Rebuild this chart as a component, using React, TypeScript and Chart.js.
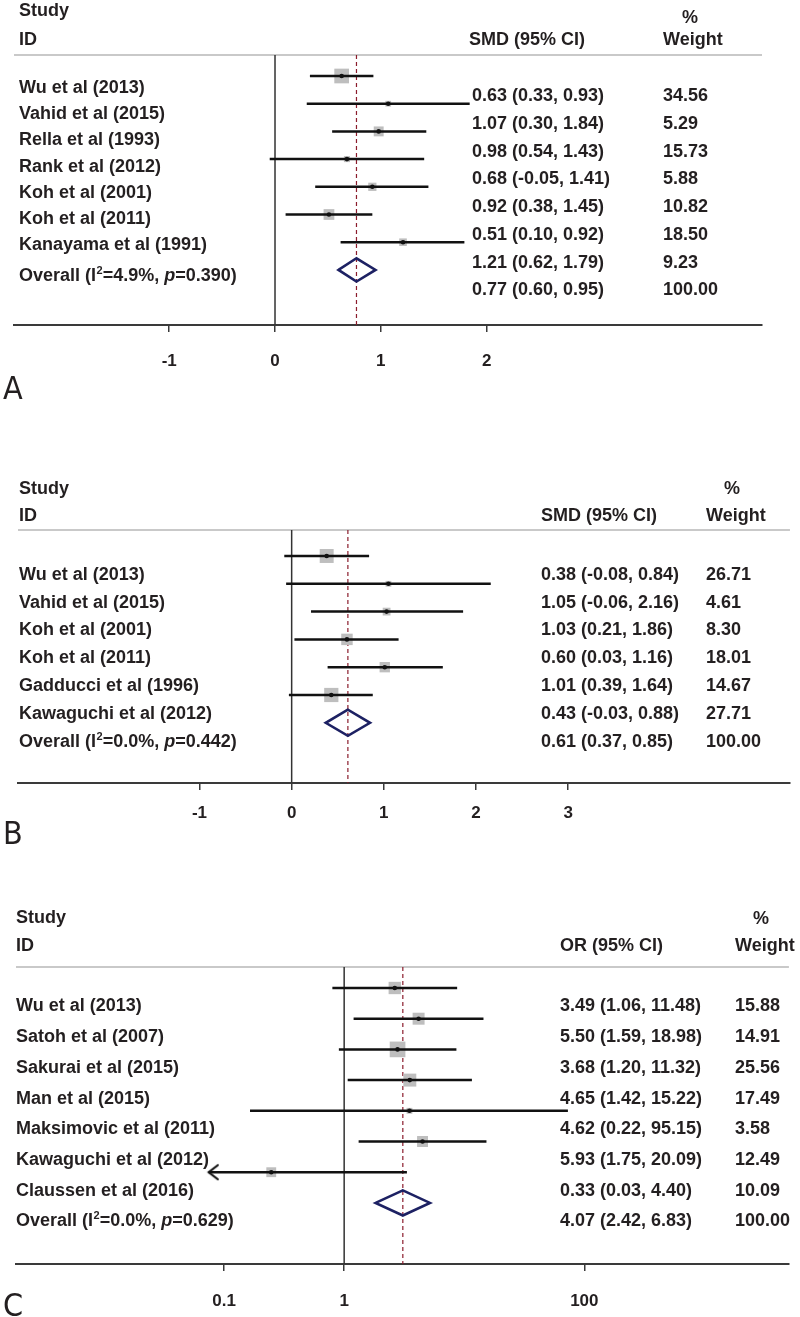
import React, { useEffect, useRef } from "react";
import { Chart, registerables } from "chart.js";

Chart.register(...registerables);

// ================= Panel A (SMD) =================
const studiesA = [
  "Wu et al (2013)",
  "Vahid et al (2015)",
  "Rella et al (1993)",
  "Rank et al (2012)",
  "Koh et al (2001)",
  "Koh et al (2011)",
  "Kanayama et al (1991)",
];
const estA = [0.63, 1.07, 0.98, 0.68, 0.92, 0.51, 1.21];
const loA = [0.33, 0.3, 0.54, -0.05, 0.38, 0.1, 0.62];
const hiA = [0.93, 1.84, 1.43, 1.41, 1.45, 0.92, 1.79];
const weightA = [34.56, 5.29, 15.73, 5.88, 10.82, 18.5, 9.23];
const overallA = [0.77, 0.6, 0.95];
const hetA = ["4.9%", "0.390"];
const ticksA = [-1, 0, 1, 2];
const tickLabelsA = ["-1", "0", "1", "2"];

// ================= Panel B (SMD) =================
const studiesB = [
  "Wu et al (2013)",
  "Vahid et al (2015)",
  "Koh et al (2001)",
  "Koh et al (2011)",
  "Gadducci et al (1996)",
  "Kawaguchi et al (2012)",
];
const estB = [0.38, 1.05, 1.03, 0.6, 1.01, 0.43];
const loB = [-0.08, -0.06, 0.21, 0.03, 0.39, -0.03];
const hiB = [0.84, 2.16, 1.86, 1.16, 1.64, 0.88];
const weightB = [26.71, 4.61, 8.3, 18.01, 14.67, 27.71];
const overallB = [0.61, 0.37, 0.85];
const hetB = ["0.0%", "0.442"];
const ticksB = [-1, 0, 1, 2, 3];
const tickLabelsB = ["-1", "0", "1", "2", "3"];

// ================= Panel C (OR) =================
const studiesC = [
  "Wu et al (2013)",
  "Satoh et al (2007)",
  "Sakurai et al (2015)",
  "Man et al (2015)",
  "Maksimovic et al (2011)",
  "Kawaguchi et al (2012)",
  "Claussen et al (2016)",
];
const estC = [3.49, 5.5, 3.68, 4.65, 4.62, 5.93, 0.33];
const loC = [1.06, 1.59, 1.2, 1.42, 0.22, 1.75, 0.03];
const hiC = [11.48, 18.98, 11.32, 15.22, 95.15, 20.09, 4.4];
const weightC = [15.88, 14.91, 25.56, 17.49, 3.58, 12.49, 10.09];
const overallC = [4.07, 2.42, 6.83];
const hetC = ["0.0%", "0.629"];
const ticksC = [0.1, 1, 100];
const tickLabelsC = ["0.1", "1", "100"];
const ciFloorC = 0.1; // lower plotting limit of panel C (CI truncated with an arrow)

const overallWeight = 100;

// ================= styling =================
const FONT = '"Liberation Sans", Arial, Helvetica, sans-serif';
const LETTER_FONT = '"Liberation Sans Narrow", "DejaVu Sans Condensed", "Liberation Sans", sans-serif';
const INK = "#231f20";
const AXIS = "#3a3a3a";
const CAP = 6.4; // half cap height of 18px text

interface Layout {
  height: number;
  area: { left: number; right: number; top: number; bottom: number };
  xMin: number;
  xMax: number;
  axisMin?: number;
  axisMax?: number;
  yMin: number;
  yMax: number;
  axisHeight: number;
  tickPad: number;
  box: number;
  diamondHalf: number;
  labelX: number;
  colX: number;
  numX: number;
  weightX: number;
  pctX: number;
  studyY: number;
  pctY: number;
  idY: number;
  labelOffset: (i: number, n: number) => number;
  numOffset: number;
  letterY: number;
}

interface PanelSpec {
  letter: string;
  measure: string;
  studies: string[];
  est: number[];
  lo: number[];
  hi: number[];
  weight: number[];
  overall: number[];
  het: string[];
  ticks: number[];
  tickLabels: string[];
  log: boolean;
  nullValue: number;
  floor?: number;
  L: Layout;
}

const specA: PanelSpec = {
  letter: "A",
  measure: "SMD (95% CI)",
  studies: studiesA,
  est: estA,
  lo: loA,
  hi: hiA,
  weight: weightA,
  overall: overallA,
  het: hetA,
  ticks: ticksA,
  tickLabels: tickLabelsA,
  log: false,
  nullValue: 0,
  L: {
    height: 400,
    area: { left: 14, right: 762, top: 55, bottom: 325 },
    xMin: -2.467,
    xMax: 4.603,
    yMin: -0.758,
    yMax: 8.989,
    axisHeight: 60,
    tickPad: 19,
    box: 2.5,
    diamondHalf: 0.42,
    labelX: 19,
    colX: 469,
    numX: 472,
    weightX: 663,
    pctX: 690,
    studyY: 10,
    pctY: 17,
    idY: 39,
    labelOffset: (i, n) => (i < n ? 11 - 1.65 * i : 5),
    numOffset: 19,
    letterY: 387,
  },
};

const specB: PanelSpec = {
  letter: "B",
  measure: "SMD (95% CI)",
  studies: studiesB,
  est: estB,
  lo: loB,
  hi: hiB,
  weight: weightB,
  overall: overallB,
  het: hetB,
  ticks: ticksB,
  tickLabels: tickLabelsB,
  log: false,
  nullValue: 0,
  L: {
    height: 460,
    area: { left: 18, right: 791, top: 130, bottom: 383 },
    xMin: -2.969,
    xMax: 5.406,
    yMin: -0.935,
    yMax: 8.166,
    axisHeight: 60,
    tickPad: 13,
    box: 2.7,
    diamondHalf: 0.47,
    labelX: 19,
    colX: 541,
    numX: 541,
    weightX: 706,
    pctX: 732,
    studyY: 88,
    pctY: 88,
    idY: 115,
    labelOffset: () => 17.5,
    numOffset: 17.5,
    letterY: 432,
  },
};

const specC: PanelSpec = {
  letter: "C",
  measure: "OR (95% CI)",
  studies: studiesC,
  est: estC,
  lo: loC,
  hi: hiC,
  weight: weightC,
  overall: overallC,
  het: hetC,
  ticks: ticksC,
  tickLabels: tickLabelsC,
  log: true,
  nullValue: 1,
  floor: ciFloorC,
  L: {
    height: 457,
    area: { left: 16, right: 798, top: 107, bottom: 404 },
    xMin: Math.pow(10, -2.598),
    xMax: Math.pow(10, 3.811),
    axisMin: Math.pow(10, -2.733),
    axisMax: Math.pow(10, 3.704),
    yMin: -0.684,
    yMax: 8.99,
    axisHeight: 50,
    tickPad: 20,
    box: 3.1,
    diamondHalf: 0.41,
    labelX: 16,
    colX: 560,
    numX: 560,
    weightX: 735,
    pctX: 761,
    studyY: 57,
    pctY: 58,
    idY: 85,
    labelOffset: () => 17,
    numOffset: 17,
    letterY: 444,
  },
};

function makeArrow(): HTMLCanvasElement {
  const c = document.createElement("canvas");
  c.width = 24;
  c.height = 18;
  const g = c.getContext("2d")!;
  g.strokeStyle = "#111";
  g.lineWidth = 2.2;
  g.lineCap = "round";
  g.lineJoin = "miter";
  g.beginPath();
  g.moveTo(21, 2);
  g.lineTo(12, 9);
  g.lineTo(21, 16);
  g.stroke();
  return c;
}

function put(
  ctx: CanvasRenderingContext2D,
  s: string,
  x: number,
  yc: number,
  font: string,
  align: CanvasTextAlign = "left"
) {
  ctx.font = font;
  ctx.textAlign = align;
  ctx.textBaseline = "alphabetic";
  ctx.fillText(s, x, yc + CAP);
}

function fmt(v: number) {
  return v.toFixed(2);
}

function textPlugin(spec: PanelSpec) {
  return {
    id: "forestText",
    beforeDatasetsDraw(chart: any) {
      const { ctx, chartArea: a } = chart;
      ctx.save();
      ctx.strokeStyle = "#c9c9c9";
      ctx.lineWidth = 2;
      ctx.beginPath();
      ctx.moveTo(a.left, a.top);
      ctx.lineTo(a.right, a.top);
      ctx.stroke();
      ctx.restore();
    },
    afterDraw(chart: any) {
      const ctx: CanvasRenderingContext2D = chart.ctx;
      const L = spec.L;
      const y = chart.scales.y;
      const n = spec.est.length;
      const bold = `bold 18px ${FONT}`;
      ctx.save();
      ctx.fillStyle = INK;
      // headers
      put(ctx, "Study", L.labelX, L.studyY, bold);
      put(ctx, "%", L.pctX, L.pctY, bold, "center");
      put(ctx, "ID", L.labelX, L.idY, bold);
      put(ctx, spec.measure, L.colX, L.idY, bold);
      put(ctx, "Weight", L.weightX, L.idY, bold);
      // study labels
      spec.studies.forEach((s, i) => {
        put(ctx, s, L.labelX, y.getPixelForValue(i) + L.labelOffset(i, n), bold);
      });
      // overall label with superscript and italic p
      {
        const yc = y.getPixelForValue(n) + L.labelOffset(n, n);
        const base = yc + CAP;
        let x = L.labelX;
        ctx.textAlign = "left";
        ctx.textBaseline = "alphabetic";
        ctx.font = bold;
        ctx.fillText("Overall (I", x, base);
        x += ctx.measureText("Overall (I").width;
        ctx.font = `bold 11px ${FONT}`;
        ctx.fillText("2", x + 0.5, base - 7);
        x += ctx.measureText("2").width + 0.5;
        ctx.font = bold;
        const mid = "=" + spec.het[0] + ", ";
        ctx.fillText(mid, x, base);
        x += ctx.measureText(mid).width;
        ctx.font = `italic bold 18px ${FONT}`;
        ctx.fillText("p", x, base);
        x += ctx.measureText("p").width;
        ctx.font = bold;
        ctx.fillText("=" + spec.het[1] + ")", x, base);
      }
      // estimates and weights
      for (let i = 0; i <= n; i++) {
        const yc = y.getPixelForValue(i) + L.numOffset;
        const e = i < n ? spec.est[i] : spec.overall[0];
        const lo = i < n ? spec.lo[i] : spec.overall[1];
        const hi = i < n ? spec.hi[i] : spec.overall[2];
        const w = i < n ? spec.weight[i] : overallWeight;
        put(ctx, `${fmt(e)} (${fmt(lo)}, ${fmt(hi)})`, L.numX, yc, bold);
        put(ctx, fmt(w), L.weightX, yc, bold);
      }
      // panel letter
      ctx.font = `32px ${LETTER_FONT}`;
      ctx.textAlign = "left";
      ctx.textBaseline = "alphabetic";
      ctx.fillText(spec.letter, 3, L.letterY + 11.5);
      ctx.restore();
    },
  };
}

function axisScale(spec: PanelSpec, type: string, min: number, max: number) {
  const L = spec.L;
  return {
    type,
    min,
    max,
    bounds: "data",
    display: true,
    position: "bottom",
    border: { display: true, color: AXIS, width: 2 },
    grid: {
      display: true,
      drawOnChartArea: false,
      drawTicks: true,
      tickLength: 7,
      color: AXIS,
      lineWidth: 1.5,
    },
    ticks: {
      autoSkip: false,
      maxRotation: 0,
      minRotation: 0,
      padding: L.tickPad,
      color: INK,
      font: { family: FONT, size: 17, weight: "bold" },
      callback: (_v: any, i: number) => spec.tickLabels[i] ?? "",
    },
    afterBuildTicks: (s: any) => {
      s.ticks = spec.ticks.map((v) => ({ value: v }));
    },
    afterFit: (s: any) => {
      s.height = L.axisHeight;
    },
  };
}

function buildConfig(spec: PanelSpec, arrow: HTMLCanvasElement): any {
  const L = spec.L;
  const n = spec.est.length;
  const nullAxis = spec.log ? "x2" : "x";
  const ds: any[] = [];

  ds.push({
    label: "null",
    data: [
      { x: spec.nullValue, y: L.yMin },
      { x: spec.nullValue, y: L.yMax },
    ],
    showLine: true,
    borderColor: "#333333",
    borderWidth: 1.5,
    pointRadius: 0,
    xAxisID: nullAxis,
    order: 10,
  });
  ds.push({
    label: "pooled",
    data: [
      { x: spec.overall[0], y: L.yMin },
      { x: spec.overall[0], y: L.yMax },
    ],
    showLine: true,
    borderColor: "#8b1c2c",
    borderWidth: 1.2,
    borderDash: [4, 3],
    pointRadius: 0,
    xAxisID: "x",
    order: 9,
  });
  ds.push({
    label: "weights",
    data: spec.est.map((e, i) => ({ x: e, y: i })),
    pointStyle: "rect",
    pointRadius: spec.weight.map((w) => (L.box * Math.sqrt(w)) / Math.SQRT2),
    pointBackgroundColor: "#bebebe",
    pointBorderWidth: 0,
    pointBorderColor: "rgba(0,0,0,0)",
    xAxisID: "x",
    order: 8,
  });
  spec.est.forEach((_e, i) => {
    const lo = spec.lo[i];
    const cut = spec.floor !== undefined && lo < spec.floor;
    ds.push({
      label: "ci" + i,
      data: [
        { x: cut ? spec.floor : lo, y: i },
        { x: spec.hi[i], y: i },
      ],
      showLine: true,
      borderColor: "#111111",
      borderWidth: 2.5,
      borderCapStyle: "butt",
      pointRadius: cut ? [6, 0] : 0,
      pointStyle: cut ? [arrow, "circle"] : "circle",
      pointBorderWidth: 0,
      xAxisID: "x",
      order: 5,
    });
  });
  const [oe, ol, oh] = spec.overall;
  const h = L.diamondHalf;
  ds.push({
    label: "diamond",
    data: [
      { x: ol, y: n },
      { x: oe, y: n - h },
      { x: oh, y: n },
      { x: oe, y: n + h },
      { x: ol, y: n },
      { x: oe, y: n - h },
    ],
    showLine: true,
    borderColor: "#1d2163",
    borderWidth: 2.6,
    borderJoinStyle: "miter",
    pointRadius: 0,
    fill: false,
    xAxisID: "x",
    order: 2,
  });
  ds.push({
    label: "points",
    data: spec.est.map((e, i) => ({ x: e, y: i })),
    pointStyle: "circle",
    pointRadius: 2.3,
    pointBackgroundColor: "#111111",
    pointBorderWidth: 0,
    xAxisID: "x",
    order: 1,
  });

  const scales: any = {
    y: {
      type: "linear",
      min: L.yMin,
      max: L.yMax,
      bounds: "data",
      reverse: true,
      display: false,
    },
  };
  if (spec.log) {
    scales.x = {
      type: "logarithmic",
      min: L.xMin,
      max: L.xMax,
      bounds: "data",
      display: false,
      position: "bottom",
    };
    scales.x2 = axisScale(spec, "logarithmic", L.axisMin!, L.axisMax!);
  } else {
    scales.x = axisScale(spec, "linear", L.xMin, L.xMax);
  }

  return {
    type: "scatter",
    data: { datasets: ds },
    options: {
      animation: false,
      responsive: false,
      maintainAspectRatio: false,
      devicePixelRatio: 1,
      events: [],
      layout: {
        padding: {
          left: L.area.left,
          right: 800 - L.area.right,
          top: L.area.top,
          bottom: L.height - L.area.bottom - L.axisHeight,
        },
      },
      plugins: {
        legend: { display: false },
        tooltip: { enabled: false },
        title: { display: false },
      },
      scales,
    },
    plugins: [textPlugin(spec)],
  };
}

function Panel({ spec }: { spec: PanelSpec }) {
  const ref = useRef<HTMLCanvasElement>(null);
  useEffect(() => {
    if (!ref.current) return;
    const chart = new Chart(ref.current, buildConfig(spec, makeArrow()));
    return () => chart.destroy();
  }, [spec]);
  return (
    <canvas
      ref={ref}
      width={800}
      height={spec.L.height}
      style={{ display: "block", width: 800, height: spec.L.height }}
    />
  );
}

export default function App() {
  return (
    <div style={{ width: 800, height: 1317, background: "#ffffff", overflow: "hidden" }}>
      <style>{"html,body{margin:0;padding:0;background:#fff;overflow:hidden}"}</style>
      <Panel spec={specA} />
      <Panel spec={specB} />
      <Panel spec={specC} />
    </div>
  );
}
